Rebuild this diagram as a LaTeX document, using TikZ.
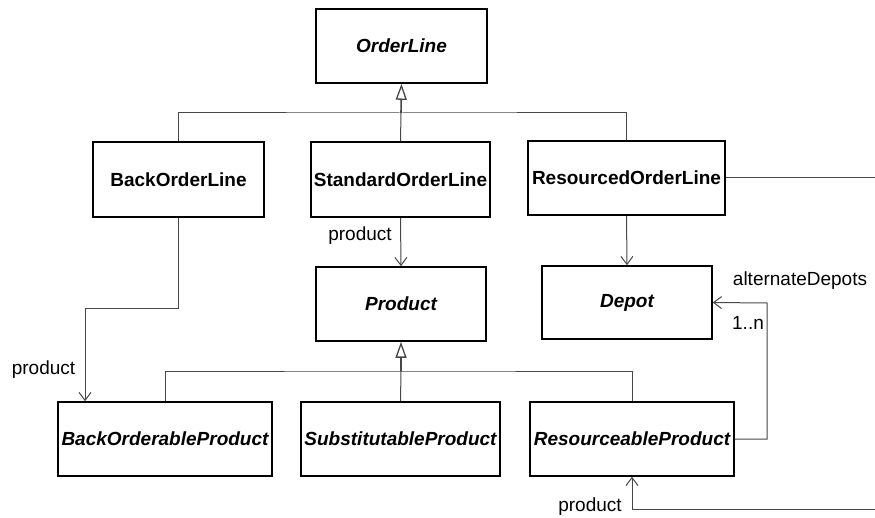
\documentclass[tikz,border=0pt]{standalone}
\usepackage{fontspec}
\setmainfont{Liberation Sans}
\usetikzlibrary{arrows.meta}
\begin{document}
\begin{tikzpicture}[x=1pt,y=-1pt,
  cls/.style={draw=black, line width=1.6pt, inner sep=0pt, font=\fontsize{19}{22}\selectfont\bfseries},
  abs/.style={cls, font=\fontsize{19}{22}\selectfont\bfseries\itshape},
  conn/.style={draw=black!72, line width=1pt},
  nav/.style={conn, -{Straight Barb[length=8pt,width=12pt,line width=1pt]}},
  gen/.style={conn, line width=1.6pt, -{Triangle[open,length=16pt,width=11pt,line width=1.3pt]}},
  lbl/.style={font=\fontsize{19}{22}\selectfont, inner sep=0pt}
]
\useasboundingbox (0,0) rectangle (875,518);

% classes
\node[abs, minimum width=171pt, minimum height=74pt] (OL)  at (401.5,46)    {OrderLine};
\node[cls, minimum width=171pt, minimum height=75pt] (BOL) at (178.5,179.5) {BackOrderLine};
\node[cls, minimum width=179pt, minimum height=75pt] (SOL) at (400.5,179.5) {StandardOrderLine};
\node[cls, minimum width=197pt, minimum height=74pt] (ROL) at (626.5,178)   {ResourcedOrderLine};
\node[abs, minimum width=170pt, minimum height=73pt] (DEP) at (627,302.5)   {Depot};
\node[abs, minimum width=170pt, minimum height=74pt] (PR)  at (401,304)     {Product};
\node[abs, minimum width=214pt, minimum height=74pt] (BOP) at (165,439)     {BackOrderableProduct};
\node[abs, minimum width=199pt, minimum height=74pt] (SP)  at (400.5,439)   {SubstitutableProduct};
\node[abs, minimum width=204pt, minimum height=74pt] (RP)  at (632,439)     {ResourceableProduct};

% generalization OrderLine
\coordinate (b1) at (401,113);
\draw[conn] (BOL.north) |- (b1) -| (ROL.north);
\draw[conn] (SOL.north) -- (b1);
\draw[gen] (b1) -- (OL.south);

% generalization Product
\coordinate (b2) at (401,371);
\draw[conn] (BOP.north) |- (b2) -| (RP.north);
\draw[conn] (SP.north) -- (b2);
\draw[gen] (b2) -- (PR.south);

% associations
\draw[nav] (SOL.south) -- (PR.north);
\draw[nav] (ROL.south) -- (DEP.north);

\coordinate (c1) at (85,309);
\draw[nav] (BOL.south) |- (c1) -- (c1 |- BOP.north);

\coordinate (c2) at (767,303);
\draw[nav] (RP.east) -| (c2) -- (DEP.east);

\coordinate (r1) at (890,178);
\coordinate (r2) at (890,509);
\draw[nav] (ROL.east) -- (r1) -- (r2) -| (RP.south);

% labels
\node[lbl] (l1) at (360,236)  {product};
\node[lbl] (l2) at (43.5,370) {product};
\node[lbl] (l3) at (800,281)  {alternateDepots};
\node[lbl] (l4) at (748,323)  {1..n};
\node[lbl] (l5) at (590,507)  {product};
\end{tikzpicture}
\end{document}
